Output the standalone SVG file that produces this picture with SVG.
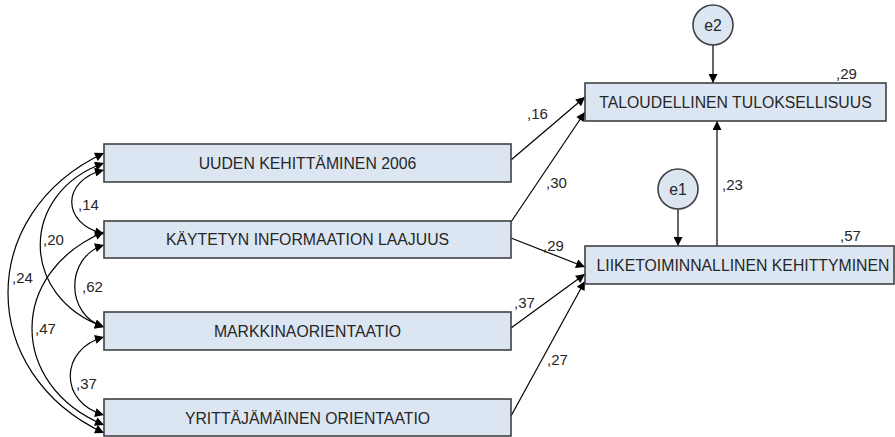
<svg xmlns="http://www.w3.org/2000/svg" width="895" height="437" viewBox="0 0 895 437">
<defs>
<marker id="ah" viewBox="0 0 10 10" refX="10" refY="5" markerWidth="11" markerHeight="9" markerUnits="userSpaceOnUse" orient="auto-start-reverse"><path d="M0,0 L10,5 L0,10 z" fill="#000"/></marker>
<style>
.box{fill:#dce6f2;stroke:#404040;stroke-width:1.6}
.t{font-family:"Liberation Sans",Arial,sans-serif;font-size:15.8px;fill:#262626;text-anchor:middle}
.n{font-family:"Liberation Sans",Arial,sans-serif;font-size:15px;fill:#262626}
.c{fill:none;stroke:#000;stroke-width:1.2}
.a{marker-end:url(#ah)}
.b{marker-start:url(#ah);marker-end:url(#ah)}
</style>
</defs>
<rect width="895" height="437" fill="#fff"/>
<g id="connectors">
<path class="c a" d="M511,160 L585,97"/>
<path class="c a" d="M511,222 L585,112"/>
<path class="c a" d="M511,238 L585,267"/>
<path class="c a" d="M511,328 L585,274"/>
<path class="c a" d="M511,416 L585,281"/>
<path class="c a" d="M713,45 L713,83"/>
<path class="c a" d="M678,209 L678,246"/>
<path class="c a" d="M717,246 L717,121"/>
<path class="c b" d="M104,153 C-24,213 -24,373 104,433"/>
<path class="c b" d="M104,163 C19,193 19,297 104,327"/>
<path class="c b" d="M104,170 C61,180 61,224 104,234"/>
<path class="c b" d="M104,232 C8,272 8,385 104,425"/>
<path class="c b" d="M104,245 C65,257 65,315 104,327"/>
<path class="c b" d="M104,337 C59,349 59,403 104,415"/>
</g>
<g id="labels">
<text class="n" x="527" y="119">,16</text>
<text class="n" x="546" y="188">,30</text>
<text class="n" x="543" y="251">,29</text>
<text class="n" x="514" y="308">,37</text>
<text class="n" x="547" y="365">,27</text>
<text class="n" x="722" y="190">,23</text>
<text class="n" x="836" y="79">,29</text>
<text class="n" x="840" y="241">,57</text>
<text class="n" x="78" y="210">,14</text>
<text class="n" x="43" y="245">,20</text>
<text class="n" x="12" y="283">,24</text>
<text class="n" x="82" y="292">,62</text>
<text class="n" x="35" y="334">,47</text>
<text class="n" x="76" y="389">,37</text>
</g>
<g id="n-uuden"><rect class="box" x="104" y="144" width="407" height="38"/><text class="t" x="307.5" y="168.5">UUDEN KEHITTÄMINEN 2006</text></g>
<g id="n-kaytetyn"><rect class="box" x="104" y="221" width="407" height="37"/><text class="t" x="307.5" y="245">KÄYTETYN INFORMAATION LAAJUUS</text></g>
<g id="n-markkina"><rect class="box" x="104" y="312" width="407" height="38"/><text class="t" x="307.5" y="336.5">MARKKINAORIENTAATIO</text></g>
<g id="n-yrittaja"><rect class="box" x="104" y="399" width="407" height="37"/><text class="t" x="307.5" y="423.5">YRITTÄJÄMÄINEN ORIENTAATIO</text></g>
<g id="n-taloudellinen"><rect class="box" x="585" y="83" width="301" height="38"/><text class="t" x="735.5" y="108">TALOUDELLINEN TULOKSELLISUUS</text></g>
<g id="n-liiketoiminnallinen"><rect class="box" x="585" y="246" width="309" height="38"/><text class="t" x="743" y="271">LIIKETOIMINNALLINEN KEHITTYMINEN</text></g>
<g id="n-e2"><circle class="box" cx="713" cy="25" r="20"/><text class="t" x="713" y="30.5">e2</text></g>
<g id="n-e1"><circle class="box" cx="678" cy="189" r="20"/><text class="t" x="678" y="194.5">e1</text></g>
</svg>
